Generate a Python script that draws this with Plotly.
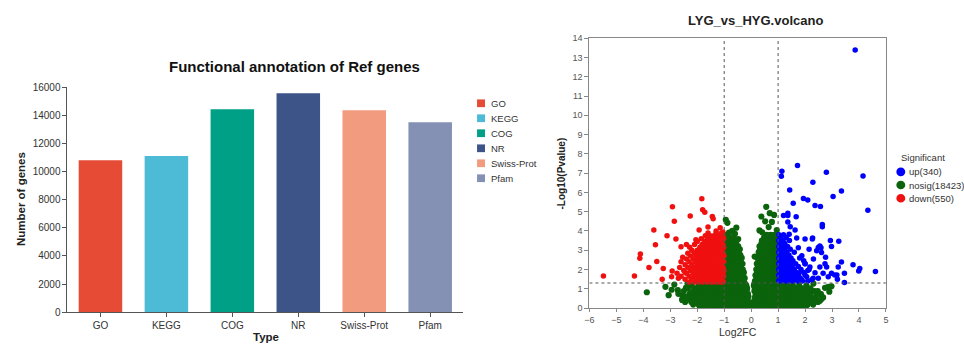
import plotly.graph_objects as go

W, H = 964, 353

# ---------------- Bar chart data ----------------
categories = ["GO", "KEGG", "COG", "NR", "Swiss-Prot", "Pfam"]
gene_counts = [10800, 11100, 14430, 15570, 14350, 13500]
bar_colors = ["#E64B35", "#4DBBD5", "#00A087", "#3C5488", "#F39B7F", "#8491B4"]
bar_yticks = [0, 2000, 4000, 6000, 8000, 10000, 12000, 14000, 16000]

# ---------------- Volcano data ----------------
fc_threshold = 1.0
p_threshold = 1.3
vol_xticks = [-6, -5, -4, -3, -2, -1, 0, 1, 2, 3, 4, 5]
vol_yticks = list(range(0, 15))
legend_labels = ["up(340)", "nosig(18423)", "down(550)"]

# down (red): scattered points
down_x = [-5.48, -4.33, -4.11, -4.13, -3.79, -3.61, -3.55, -3.50, -3.30, -3.26, -3.12, -2.93,
          -2.92, -2.85, -2.79, -2.60, -2.54, -2.26, -1.83, -1.80, -1.72, -1.44, -1.41, -1.15,
          -1.93, -2.95, -2.70, -2.45, -2.20, -1.60, -1.30, -1.05, -2.40, -2.05]
down_y = [1.67, 1.67, 2.80, 2.58, 2.10, 4.05, 3.28, 2.42, 1.50, 2.05, 3.75, 1.92,
          5.25, 4.50, 3.58, 3.18, 2.63, 4.77, 5.67, 5.10, 4.97, 4.75, 4.63, 4.17,
          4.05, 1.63, 1.55, 1.85, 2.05, 4.20, 4.00, 3.95, 3.30, 3.55]
# down (red): dense band, rows of (y, x-list)
down_rows_y = [1.35, 1.50, 1.65, 1.80, 1.95, 2.10, 2.25, 2.40, 2.55, 2.70, 2.85, 3.00,
               3.15, 3.30, 3.45, 3.60, 3.75, 3.90]
down_rows_x = [
    [-2.30, -2.10, -1.95, -1.80, -1.65, -1.50, -1.38, -1.25, -1.12, -1.03],
    [-2.45, -2.20, -2.00, -1.85, -1.72, -1.60, -1.47, -1.33, -1.20, -1.08],
    [-2.60, -2.30, -2.10, -1.92, -1.78, -1.63, -1.50, -1.38, -1.25, -1.12, -1.02],
    [-2.75, -2.40, -2.15, -2.00, -1.85, -1.70, -1.55, -1.42, -1.30, -1.17, -1.05],
    [-2.50, -2.25, -2.05, -1.90, -1.75, -1.60, -1.47, -1.35, -1.22, -1.10, -1.01],
    [-2.65, -2.35, -2.12, -1.95, -1.80, -1.66, -1.52, -1.40, -1.27, -1.15, -1.04],
    [-2.45, -2.20, -2.00, -1.85, -1.70, -1.57, -1.45, -1.32, -1.20, -1.08],
    [-2.60, -2.30, -2.08, -1.92, -1.76, -1.62, -1.50, -1.37, -1.25, -1.12, -1.02],
    [-2.40, -2.15, -1.98, -1.82, -1.68, -1.55, -1.42, -1.30, -1.17, -1.06],
    [-2.25, -2.05, -1.88, -1.73, -1.60, -1.47, -1.35, -1.22, -1.10, -1.01],
    [-2.35, -2.10, -1.93, -1.78, -1.64, -1.52, -1.40, -1.27, -1.15, -1.04],
    [-2.20, -2.00, -1.84, -1.70, -1.56, -1.44, -1.32, -1.20, -1.08],
    [-2.28, -1.90, -1.75, -1.61, -1.48, -1.36, -1.24, -1.12, -1.02],
    [-2.10, -1.82, -1.66, -1.53, -1.40, -1.28, -1.16, -1.05],
    [-2.00, -1.72, -1.58, -1.45, -1.33, -1.20, -1.08],
    [-1.85, -1.62, -1.48, -1.36, -1.24, -1.12, -1.02],
    [-1.70, -1.52, -1.38, -1.26, -1.15, -1.05],
    [-1.60, -1.30, -1.10],
]

# up (blue): scattered points
up_x = [3.86, 1.72, 1.14, 1.12, 2.79, 4.15, 2.29, 1.43, 3.35, 3.04, 1.94, 2.10, 1.56, 2.37,
        2.57, 4.33, 1.67, 1.36, 1.36, 2.64, 2.64, 2.28, 2.94, 3.25, 2.55, 2.49, 2.98, 3.35,
        3.78, 3.99, 4.03, 4.61, 3.46, 3.18, 3.20, 3.46, 1.20, 1.36, 1.45, 1.63, 1.41, 2.00,
        2.27, 1.75, 1.88, 2.00, 2.18, 2.37, 2.55, 2.74, 2.67, 2.86, 2.49, 2.25, 2.06, 1.87,
        1.75, 2.61, 2.76, 2.43, 2.59, 2.15, 1.69, 3.10, 3.23, 2.98, 2.31, 2.80, 1.95, 2.10]
up_y = [13.38, 7.39, 7.10, 6.84, 7.05, 6.85, 6.52, 6.13, 6.07, 5.79, 5.69, 5.60, 5.44, 5.32,
        5.27, 5.07, 4.74, 4.92, 4.80, 4.34, 4.22, 3.64, 3.50, 3.47, 3.22, 3.14, 3.19, 2.39,
        2.25, 1.92, 2.05, 1.90, 1.80, 1.72, 1.50, 1.33, 4.80, 4.47, 4.22, 4.05, 3.83, 3.58,
        3.58, 3.13, 2.72, 2.30, 2.13, 1.83, 2.13, 2.30, 1.80, 1.63, 1.55, 1.47, 1.63, 1.47,
        1.80, 2.88, 2.63, 2.97, 3.13, 3.05, 3.63, 1.72, 2.13, 1.80, 2.55, 2.13, 2.45, 1.95]
# up (blue): dense band
up_rows_y = [1.40, 1.55, 1.70, 1.85, 2.00, 2.15, 2.30, 2.45, 2.60, 2.75, 2.90, 3.05,
             3.20, 3.35, 3.50, 3.65, 3.80]
up_rows_x = [
    [1.02, 1.15, 1.28, 1.42, 1.56, 1.72, 1.90, 2.10],
    [1.08, 1.21, 1.35, 1.49, 1.64, 1.82, 2.30],
    [1.02, 1.15, 1.28, 1.42, 1.58, 1.76, 2.00],
    [1.08, 1.21, 1.35, 1.50, 1.68, 1.95],
    [1.02, 1.15, 1.28, 1.42, 1.60, 1.85, 2.15],
    [1.08, 1.21, 1.35, 1.52, 1.75],
    [1.02, 1.15, 1.28, 1.45, 1.65, 2.00],
    [1.08, 1.21, 1.36, 1.55],
    [1.02, 1.15, 1.30, 1.48, 1.80],
    [1.08, 1.22, 1.40],
    [1.02, 1.15, 1.32, 1.60],
    [1.08, 1.24, 1.45],
    [1.02, 1.16, 1.35],
    [1.08, 1.25],
    [1.02, 1.18, 1.42],
    [1.10, 1.30],
    [1.03, 1.20],
]

# nosig (green): scattered points
nosig_x = [-3.87, -3.18, -3.06, -2.72, -2.56, -2.42, -2.54, -2.23, -2.36, -2.85, -2.95,
           2.47, 2.74, 2.59, 2.86, 2.98, 2.67, 2.37, 2.55, 2.15, 2.31, 2.90,
           -0.94, -0.88, -0.55, -0.48, -0.82, -0.70, -0.60,
           0.38, 0.56, 0.69, 0.85, 0.52, 0.31, 0.41, 0.77, 0.65, 0.95, 0.13]
nosig_y = [0.82, 1.10, 0.67, 0.93, 0.42, 1.05, 0.63, 0.55, 1.27, 1.22, 0.95,
           0.88, 1.05, 0.72, 1.10, 1.13, 0.55, 0.47, 0.38, 0.30, 1.27, 0.85,
           4.58, 4.42, 4.17, 3.58, 3.92, 4.00, 3.85,
           4.75, 5.25, 4.92, 4.83, 4.50, 4.03, 3.93, 4.47, 4.20, 4.05, 2.67]
# nosig (green): dense base + arms
nosig_rows_y = [0.04, 0.18, 0.32, 0.46, 0.60, 0.74, 0.88, 1.02, 1.16, 1.26,
                1.40, 1.55, 1.70, 1.85, 2.00, 2.15, 2.30, 2.45, 2.60, 2.75, 2.90,
                3.05, 3.20, 3.35, 3.50, 3.65, 3.80]
nosig_rows_x = [
    [-1.90, -1.70, -1.52, -1.34, -1.16, -0.98, -0.80, -0.62, -0.44, -0.27, -0.10, 0.05, 0.22,
     0.40, 0.58, 0.76, 0.94, 1.12, 1.30, 1.48, 1.66, 1.84, 2.02],
    [-2.15, -1.95, -1.78, -1.60, -1.42, -1.24, -1.06, -0.88, -0.70, -0.52, -0.35, -0.18, -0.04,
     0.13, 0.30, 0.48, 0.66, 0.84, 1.02, 1.20, 1.38, 1.56, 1.74, 1.92, 2.10, 2.30],
    [-2.45, -2.22, -2.02, -1.84, -1.66, -1.48, -1.30, -1.12, -0.94, -0.76, -0.58, -0.41, -0.24,
     -0.10, 0.10, 0.26, 0.43, 0.60, 0.78, 0.96, 1.14, 1.32, 1.50, 1.68, 1.86, 2.04, 2.24, 2.48],
    [-2.55, -2.30, -2.08, -1.90, -1.72, -1.54, -1.36, -1.18, -1.00, -0.82, -0.64, -0.47, -0.30,
     -0.14, 0.13, 0.30, 0.47, 0.64, 0.82, 1.00, 1.18, 1.36, 1.54, 1.72, 1.90, 2.08, 2.30, 2.60],
    [-2.40, -2.18, -1.98, -1.80, -1.62, -1.44, -1.26, -1.08, -0.90, -0.72, -0.55, -0.38, -0.22,
     -0.10, 0.15, 0.33, 0.50, 0.68, 0.86, 1.04, 1.22, 1.40, 1.58, 1.76, 1.94, 2.14, 2.40],
    [-2.70, -2.28, -2.06, -1.88, -1.70, -1.52, -1.34, -1.16, -0.98, -0.80, -0.62, -0.45, -0.28,
     -0.12, 0.17, 0.35, 0.52, 0.70, 0.88, 1.06, 1.24, 1.42, 1.60, 1.78, 1.98, 2.20, 2.55],
    [-2.50, -2.15, -1.95, -1.77, -1.59, -1.41, -1.23, -1.05, -0.87, -0.69, -0.52, -0.35, -0.17,
     0.12, 0.20, 0.38, 0.56, 0.74, 0.92, 1.10, 1.28, 1.46, 1.64, 1.84, 2.05, 2.35],
    [-2.35, -2.05, -1.85, -1.67, -1.49, -1.31, -1.13, -0.95, -0.77, -0.60, -0.42, -0.25, -0.15,
     0.14, 0.24, 0.42, 0.60, 0.78, 0.96, 1.14, 1.32, 1.50, 1.70, 1.92, 2.20],
    [-2.20, -1.95, -1.75, -1.57, -1.39, -1.21, -1.03, -0.85, -0.68, -0.50, -0.33, -0.18,
     0.10, 0.27, 0.45, 0.63, 0.81, 0.99, 1.17, 1.35, 1.55, 1.78, 2.05],
    [-1.20, -1.10, -0.92, -0.75, -0.57, -0.40, -0.22, 0.12, 0.30, 0.48, 0.66, 0.84, 0.98],
    [-0.98, -0.84, -0.70, -0.56, -0.42, -0.28, 0.14, 0.28, 0.42, 0.56, 0.70, 0.84, 0.97],
    [-0.92, -0.78, -0.64, -0.50, -0.36, -0.24, 0.20, 0.35, 0.49, 0.63, 0.77, 0.91],
    [-0.98, -0.84, -0.70, -0.56, -0.42, -0.30, 0.16, 0.30, 0.44, 0.58, 0.72, 0.86, 0.98],
    [-0.92, -0.78, -0.64, -0.50, -0.37, -0.27, 0.22, 0.36, 0.50, 0.64, 0.78, 0.92],
    [-0.98, -0.84, -0.70, -0.56, -0.43, -0.31, 0.19, 0.32, 0.46, 0.60, 0.74, 0.88, 0.98],
    [-0.92, -0.78, -0.64, -0.50, -0.38, 0.25, 0.39, 0.53, 0.67, 0.81, 0.94],
    [-0.98, -0.84, -0.70, -0.57, -0.44, -0.32, 0.21, 0.34, 0.48, 0.62, 0.76, 0.90],
    [-0.92, -0.78, -0.64, -0.51, -0.39, 0.27, 0.41, 0.55, 0.69, 0.83, 0.96],
    [-0.98, -0.84, -0.70, -0.57, -0.45, -0.35, 0.24, 0.37, 0.51, 0.65, 0.79, 0.93],
    [-0.92, -0.78, -0.64, -0.52, -0.40, 0.30, 0.44, 0.58, 0.72, 0.86, 0.98],
    [-0.98, -0.84, -0.70, -0.58, -0.46, 0.28, 0.41, 0.55, 0.69, 0.83, 0.95],
    [-0.92, -0.78, -0.65, -0.53, -0.42, 0.33, 0.47, 0.61, 0.75, 0.89],
    [-0.98, -0.85, -0.72, -0.60, -0.48, 0.31, 0.45, 0.59, 0.73, 0.87, 0.98],
    [-0.92, -0.79, -0.66, -0.55, 0.38, 0.52, 0.66, 0.80, 0.93],
    [-0.98, -0.85, -0.72, -0.60, 0.40, 0.55, 0.69, 0.83, 0.96],
    [-0.93, -0.80, -0.66, 0.48, 0.62, 0.76, 0.90],
    [-0.97, -0.84, 0.58, 0.72, 0.86],
]


def flatten_rows(rows_y, rows_x, px, py):
    xs, ys = list(px), list(py)
    for yv, row in zip(rows_y, rows_x):
        for xv in row:
            xs.append(xv)
            ys.append(yv)
    return xs, ys


nx, ny = flatten_rows(nosig_rows_y, nosig_rows_x, nosig_x, nosig_y)
dx, dy = flatten_rows(down_rows_y, down_rows_x, down_x, down_y)
ux, uy = flatten_rows(up_rows_y, up_rows_x, up_x, up_y)

C_UP, C_NOSIG, C_DOWN = "#0000ff", "#0b640b", "#f01010"
FONT = "Liberation Sans, Arial, sans-serif"

fig = go.Figure()

for cat, val, col in zip(categories, gene_counts, bar_colors):
    fig.add_trace(go.Bar(x=[cat], y=[val], marker=dict(color=col, line=dict(width=0)),
                         width=0.66, showlegend=False, xaxis="x", yaxis="y"))

fig.add_trace(go.Scatter(x=nx, y=ny, mode="markers",
                         marker=dict(color=C_NOSIG, size=6.2, line=dict(width=0)),
                         showlegend=False, xaxis="x2", yaxis="y2"))
fig.add_trace(go.Scatter(x=dx, y=dy, mode="markers",
                         marker=dict(color=C_DOWN, size=5.5, line=dict(width=0)),
                         showlegend=False, xaxis="x2", yaxis="y2"))
fig.add_trace(go.Scatter(x=ux, y=uy, mode="markers",
                         marker=dict(color=C_UP, size=5.5, line=dict(width=0)),
                         showlegend=False, xaxis="x2", yaxis="y2"))


def fx(p):
    return p / W


def fy(p):
    return 1 - p / H


shapes = []
# threshold lines
for xv in (-fc_threshold, fc_threshold):
    shapes.append(dict(type="line", xref="x2", yref="y2", x0=xv, x1=xv, y0=0, y1=14,
                       line=dict(color="#555", width=1, dash="dot")))
shapes.append(dict(type="line", xref="x2", yref="y2", x0=-6, x1=5, y0=p_threshold, y1=p_threshold,
                   line=dict(color="#555", width=1, dash="dot")))

annotations = []
# bar legend
bar_leg_y = [100.7, 116.2, 131.7, 147.3, 162.8, 178.3]
for cat, col, yc in zip(categories, bar_colors, bar_leg_y):
    shapes.append(dict(type="rect", xref="paper", yref="paper", x0=fx(476), x1=fx(484),
                       y0=fy(yc + 4), y1=fy(yc - 4), fillcolor=col, line=dict(width=0)))
    annotations.append(dict(text=cat, xref="paper", yref="paper", x=fx(488), y=fy(yc),
                            xanchor="left", yanchor="middle", showarrow=False,
                            font=dict(size=9.5, color="#333", family=FONT)))

# volcano legend
vol_leg_y = [171.7, 185.3, 199.0]
for lab, col, yc in zip(legend_labels, [C_UP, C_NOSIG, C_DOWN], vol_leg_y):
    shapes.append(dict(type="circle", xref="paper", yref="paper", x0=fx(898.8), x1=fx(907.8),
                       y0=fy(yc + 4.5), y1=fy(yc - 4.5), fillcolor=col, line=dict(width=0)))
    annotations.append(dict(text=lab, xref="paper", yref="paper", x=fx(909.5), y=fy(yc),
                            xanchor="left", yanchor="middle", showarrow=False,
                            font=dict(size=9.5, color="#333", family=FONT)))
annotations.append(dict(text="Significant", xref="paper", yref="paper", x=fx(901.5), y=fy(157),
                        xanchor="left", yanchor="middle", showarrow=False,
                        font=dict(size=9.5, color="#333", family=FONT)))

# titles
annotations += [
    dict(text="<b>Functional annotation of Ref genes</b>", xref="paper", yref="paper",
         x=fx(292), y=fy(63), xanchor="center", yanchor="middle", showarrow=False,
         font=dict(size=15, color="#111", family=FONT)),
    dict(text="<b>Number of genes</b>", xref="paper", yref="paper", x=fx(16), y=fy(200),
         xanchor="center", yanchor="middle", textangle=-90, showarrow=False,
         font=dict(size=11.5, color="#222", family=FONT)),
    dict(text="<b>Type</b>", xref="paper", yref="paper", x=fx(263), y=fy(343),
         xanchor="center", yanchor="middle", showarrow=False,
         font=dict(size=11.5, color="#222", family=FONT)),
    dict(text="<b>LYG_vs_HYG.volcano</b>", xref="paper", yref="paper", x=fx(757), y=fy(15),
         xanchor="center", yanchor="middle", showarrow=False,
         font=dict(size=13, color="#222", family=FONT)),
    dict(text="<b>-Log10(Pvalue)</b>", xref="paper", yref="paper", x=fx(561), y=fy(173),
         xanchor="center", yanchor="middle", textangle=-90, showarrow=False,
         font=dict(size=10, color="#222", family=FONT)),
    dict(text="Log2FC", xref="paper", yref="paper", x=fx(739), y=fy(337),
         xanchor="center", yanchor="middle", showarrow=False,
         font=dict(size=10.5, color="#333", family=FONT)),
]

fig.update_layout(
    width=W, height=H, autosize=False,
    margin=dict(l=0, r=0, t=0, b=0),
    paper_bgcolor="white", plot_bgcolor="white",
    barmode="overlay", showlegend=False,
    font=dict(family=FONT),
    xaxis=dict(domain=[fx(63), fx(462)], anchor="y", type="category",
               categoryorder="array", categoryarray=categories, range=[-0.5, 5.5],
               showline=True, linecolor="#555", linewidth=1, ticks="outside", ticklen=4,
               tickcolor="#555", showgrid=False, zeroline=False,
               tickfont=dict(size=10, color="#333", family=FONT)),
    yaxis=dict(domain=[fy(317), fy(84)], anchor="x", range=[0, 16000], tickvals=bar_yticks,
               tickformat="d",
               showline=True, linecolor="#555", linewidth=1, ticks="outside", ticklen=4,
               tickcolor="#555", showgrid=False, zeroline=False,
               tickfont=dict(size=10, color="#333", family=FONT)),
    xaxis2=dict(domain=[fx(589.3), fx(888.3)], anchor="y2", range=[-6, 5], tickvals=vol_xticks,
                showline=True, mirror=True, linecolor="#888", linewidth=1.3, ticks="outside",
                ticklen=3, tickcolor="#888", showgrid=False, zeroline=False,
                tickfont=dict(size=9, color="#555", family=FONT)),
    yaxis2=dict(domain=[fy(312.7), fy(33.3)], anchor="x2", range=[0, 14], tickvals=vol_yticks,
                showline=True, mirror=True, linecolor="#888", linewidth=1.3, ticks="outside",
                ticklen=4, tickcolor="#888", showgrid=False, zeroline=False,
                tickfont=dict(size=9, color="#555", family=FONT)),
    shapes=shapes,
    annotations=annotations,
)

fig.write_html("out.html")
